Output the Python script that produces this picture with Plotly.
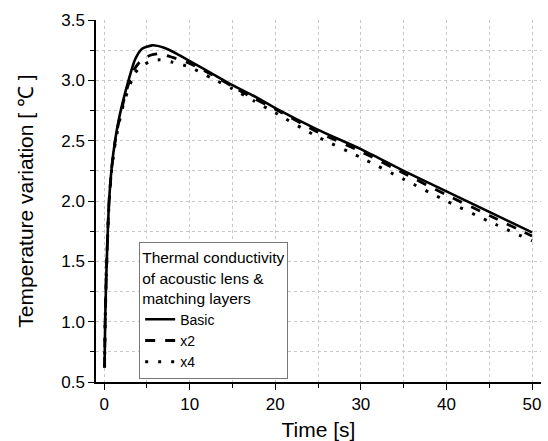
import plotly.graph_objects as go

time_basic = [0.05, 0.12, 0.24, 0.39, 0.58, 0.9, 1.3, 1.7, 2.25, 2.85, 3.6, 4.4, 5.6, 7, 8.5, 10, 12.5, 15, 17.5, 20, 25, 30, 35, 40, 45, 50]
temp_basic = [0.62, 1.0, 1.35, 1.68, 2.0, 2.29, 2.51, 2.67, 2.84, 3.0, 3.17, 3.26, 3.29, 3.27, 3.22, 3.16, 3.06, 2.96, 2.87, 2.77, 2.59, 2.43, 2.25, 2.08, 1.91, 1.74]

time_x2 = [0.05, 0.12, 0.24, 0.39, 0.58, 0.9, 1.3, 1.7, 2.25, 2.85, 3.6, 4.4, 5.5, 6.5, 8, 10, 12.5, 15, 17.5, 20, 25, 30, 35, 40, 45, 50]
temp_x2 = [0.62, 1.0, 1.35, 1.68, 2.0, 2.28, 2.5, 2.65, 2.82, 2.97, 3.1, 3.17, 3.21, 3.22, 3.19, 3.14, 3.05, 2.95, 2.85, 2.76, 2.57, 2.41, 2.23, 2.05, 1.88, 1.71]

time_x4 = [0.05, 0.12, 0.24, 0.39, 0.58, 0.9, 1.3, 1.7, 2.25, 2.85, 3.6, 4.4, 5.5, 6.5, 8, 10, 12.5, 15, 17.5, 20, 25, 30, 35, 40, 45, 50]
temp_x4 = [0.62, 1.0, 1.35, 1.67, 1.99, 2.27, 2.48, 2.63, 2.8, 2.93, 3.06, 3.12, 3.16, 3.17, 3.15, 3.11, 3.02, 2.93, 2.83, 2.73, 2.53, 2.36, 2.18, 2.0, 1.83, 1.67]

series_names = ["Basic", "x2", "x4"]
legend_title = "Thermal conductivity<br>of acoustic lens &<br>matching layers"
x_title = "Time [s]"
y_title = "Temperature variation [ ℃ ]"

FONT = "Liberation Sans, Arial, sans-serif"

fig = go.Figure()
fig.add_trace(go.Scatter(x=time_basic, y=temp_basic, mode="lines", name=series_names[0],
                         line=dict(color="black", width=2.6, shape="spline", smoothing=0.6)))
fig.add_trace(go.Scatter(x=time_x2, y=temp_x2, mode="lines", name=series_names[1],
                         line=dict(color="black", width=2.8, dash="10px,10px", shape="spline", smoothing=0.6)))
fig.add_trace(go.Scatter(x=time_x4, y=temp_x4, mode="lines", name=series_names[2],
                         line=dict(color="black", width=3, dash="3px,10px", shape="spline", smoothing=0.6)))

axis_common = dict(
    showline=True, linecolor="black", linewidth=1.5,
    ticks="outside", ticklen=6, tickwidth=1.2, tickcolor="black",
    showgrid=True, gridcolor="#c8c8c8", gridwidth=1, griddash="dot",
    zeroline=False, mirror=False, automargin=False,
    tickfont=dict(family=FONT, size=17, color="black"),
)

fig.update_layout(
    width=548, height=441,
    margin=dict(l=96, r=7, t=20, b=59),
    paper_bgcolor="white", plot_bgcolor="white",
    font=dict(family=FONT, color="black"),
    xaxis=dict(range=[-0.95, 51.05], tickmode="array", tickvals=[0, 10, 20, 30, 40, 50],
               title=dict(text=x_title, font=dict(family=FONT, size=21), standoff=22),
               minor=dict(dtick=5, tick0=0, ticks="outside", ticklen=4, tickcolor="black",
                          showgrid=True, gridcolor="#c8c8c8", griddash="dot"),
               **axis_common),
    yaxis=dict(range=[0.5, 3.5], tickmode="array", tickvals=[0.5, 1.0, 1.5, 2.0, 2.5, 3.0, 3.5],
               ticktext=["0.5", "1.0", "1.5", "2.0", "2.5", "3.0", "3.5"],
               title=dict(text=y_title, font=dict(family=FONT, size=21), standoff=22),
               minor=dict(dtick=0.25, tick0=0.5, ticks="outside", ticklen=4, tickcolor="black",
                          showgrid=True, gridcolor="#c8c8c8", griddash="dot"),
               **axis_common),
    legend=dict(
        x=0.097, y=0.386, xanchor="left", yanchor="top",
        bgcolor="white", bordercolor="#777777", borderwidth=1,
        font=dict(family=FONT, size=14, color="black"),
        title=dict(text=legend_title, side="top", font=dict(family=FONT, size=15.5)),
        tracegroupgap=0, itemwidth=30,
    ),
    showlegend=True,
)

fig.write_html("out.html")
